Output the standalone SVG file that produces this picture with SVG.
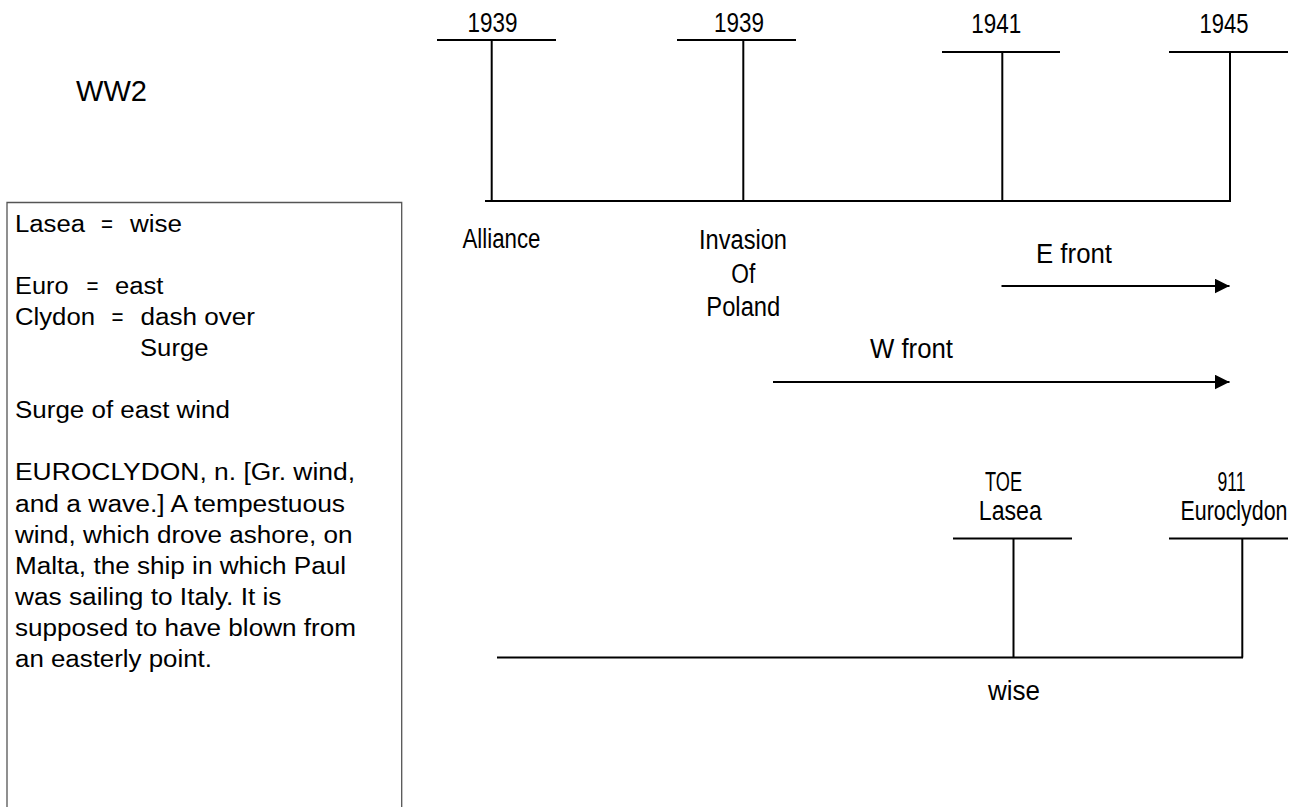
<svg xmlns="http://www.w3.org/2000/svg" width="1304" height="807" viewBox="0 0 1304 807">
  <style>
    .ln { stroke: #000; stroke-width: 2; fill: none; }
    .nar { font-family: "Liberation Sans", Arial, sans-serif; font-size: 27px; fill: #000; }
    .ttl { font-family: "Liberation Sans", Arial, sans-serif; font-size: 29px; fill: #000; }
    .mid { text-anchor: middle; }
    .box { font-family: "Liberation Sans", Arial, sans-serif; font-size: 23.5px; fill: #000; }
    .frame { stroke: #555; stroke-width: 1.3; fill: #fff; }
  </style>
  <defs>
    <marker id="arrow" viewBox="0 0 15 15" refX="15" refY="7.5" markerWidth="15" markerHeight="15" markerUnits="userSpaceOnUse" orient="auto">
      <path d="M0,0 L15,7.5 L0,15 Z" fill="#000"/>
    </marker>
  </defs>
  <rect width="1304" height="807" fill="#fff"/>

  <!-- title -->
  <g id="title">
    <text class="ttl" x="76" y="101" textLength="71" lengthAdjust="spacingAndGlyphs">WW2</text>
  </g>

  <!-- glossary box, open at the bottom -->
  <g id="glossary">
    <path class="frame" d="M7,807 V202.5 H401.7 V807"/>
    <text class="box" x="15" y="232" textLength="70" lengthAdjust="spacingAndGlyphs">Lasea</text>
    <text class="box" x="101" y="232" textLength="12" lengthAdjust="spacingAndGlyphs">=</text>
    <text class="box" x="130" y="232" textLength="52" lengthAdjust="spacingAndGlyphs">wise</text>

    <text class="box" x="15" y="294" textLength="53.5" lengthAdjust="spacingAndGlyphs">Euro</text>
    <text class="box" x="86.5" y="294" textLength="12" lengthAdjust="spacingAndGlyphs">=</text>
    <text class="box" x="115" y="294" textLength="48.5" lengthAdjust="spacingAndGlyphs">east</text>

    <text class="box" x="15" y="325" textLength="80" lengthAdjust="spacingAndGlyphs">Clydon</text>
    <text class="box" x="111.5" y="325" textLength="12" lengthAdjust="spacingAndGlyphs">=</text>
    <text class="box" x="140.5" y="325" textLength="114.5" lengthAdjust="spacingAndGlyphs">dash over</text>
    <text class="box" x="140" y="356" textLength="68.5" lengthAdjust="spacingAndGlyphs">Surge</text>

    <text class="box" x="15" y="418" textLength="215" lengthAdjust="spacingAndGlyphs">Surge of east wind</text>

    <text class="box" x="15" y="480" textLength="340" lengthAdjust="spacingAndGlyphs">EUROCLYDON, n. [Gr. wind,</text>
    <text class="box" x="15" y="511.5" textLength="330" lengthAdjust="spacingAndGlyphs">and a wave.] A tempestuous</text>
    <text class="box" x="15" y="542.5" textLength="337.5" lengthAdjust="spacingAndGlyphs">wind, which drove ashore, on</text>
    <text class="box" x="15" y="573.5" textLength="331" lengthAdjust="spacingAndGlyphs">Malta, the ship in which Paul</text>
    <text class="box" x="15" y="605" textLength="266.5" lengthAdjust="spacingAndGlyphs">was sailing to Italy. It is</text>
    <text class="box" x="15" y="636" textLength="341" lengthAdjust="spacingAndGlyphs">supposed to have blown from</text>
    <text class="box" x="15" y="667" textLength="197" lengthAdjust="spacingAndGlyphs">an easterly point.</text>
  </g>

  <!-- connectors: timeline axes and front arrows -->
  <g id="connectors">
    <line class="ln" x1="485" y1="201" x2="1231" y2="201"/>
    <line class="ln" x1="497" y1="657.5" x2="1243" y2="657.5"/>
    <line class="ln" x1="1001.5" y1="286" x2="1229.5" y2="286" marker-end="url(#arrow)"/>
    <line class="ln" x1="773" y1="382" x2="1229.5" y2="382" marker-end="url(#arrow)"/>
  </g>

  <!-- upper timeline markers -->
  <g id="m1939a">
    <line class="ln" x1="437" y1="40" x2="556" y2="40"/>
    <line class="ln" x1="491.7" y1="40" x2="491.7" y2="201"/>
    <text class="nar mid" x="492.5" y="32" textLength="50" lengthAdjust="spacingAndGlyphs">1939</text>
    <text class="nar" x="462.5" y="248" textLength="78" lengthAdjust="spacingAndGlyphs">Alliance</text>
  </g>
  <g id="m1939b">
    <line class="ln" x1="677" y1="40" x2="796" y2="40"/>
    <line class="ln" x1="743.3" y1="40" x2="743.3" y2="201"/>
    <text class="nar mid" x="739" y="32" textLength="50" lengthAdjust="spacingAndGlyphs">1939</text>
    <text class="nar mid" x="743" y="249" textLength="88" lengthAdjust="spacingAndGlyphs">Invasion</text>
    <text class="nar mid" x="743.3" y="282.5" textLength="24" lengthAdjust="spacingAndGlyphs">Of</text>
    <text class="nar mid" x="743.3" y="316" textLength="74" lengthAdjust="spacingAndGlyphs">Poland</text>
  </g>
  <g id="m1941">
    <line class="ln" x1="942" y1="52" x2="1060" y2="52"/>
    <line class="ln" x1="1002.3" y1="52" x2="1002.3" y2="201"/>
    <text class="nar mid" x="996.2" y="33" textLength="50" lengthAdjust="spacingAndGlyphs">1941</text>
  </g>
  <g id="m1945">
    <line class="ln" x1="1169" y1="52" x2="1288" y2="52"/>
    <line class="ln" x1="1230" y1="52" x2="1230" y2="201"/>
    <text class="nar mid" x="1224" y="33" textLength="49" lengthAdjust="spacingAndGlyphs">1945</text>
  </g>

  <!-- front labels -->
  <g id="efront">
    <text class="nar" x="1036" y="262.5" textLength="76" lengthAdjust="spacingAndGlyphs">E front</text>
  </g>
  <g id="wfront">
    <text class="nar" x="870" y="358" textLength="83" lengthAdjust="spacingAndGlyphs">W front</text>
  </g>

  <!-- lower timeline markers -->
  <g id="lasea">
    <line class="ln" x1="953" y1="538.5" x2="1072" y2="538.5"/>
    <line class="ln" x1="1013.5" y1="538.5" x2="1013.5" y2="657.5"/>
    <text class="nar mid" x="1003.5" y="490.5" textLength="37" lengthAdjust="spacingAndGlyphs">TOE</text>
    <text class="nar mid" x="1010.3" y="520" textLength="63" lengthAdjust="spacingAndGlyphs">Lasea</text>
  </g>
  <g id="euroclydon">
    <line class="ln" x1="1169" y1="538.5" x2="1288" y2="538.5"/>
    <line class="ln" x1="1242.3" y1="538.5" x2="1242.3" y2="657.5"/>
    <text class="nar mid" x="1231.5" y="491" textLength="28" lengthAdjust="spacingAndGlyphs">911</text>
    <text class="nar mid" x="1234" y="519.5" textLength="107" lengthAdjust="spacingAndGlyphs">Euroclydon</text>
  </g>
  <g id="wise">
    <text class="nar mid" x="1014" y="700" textLength="52" lengthAdjust="spacingAndGlyphs">wise</text>
  </g>
</svg>
